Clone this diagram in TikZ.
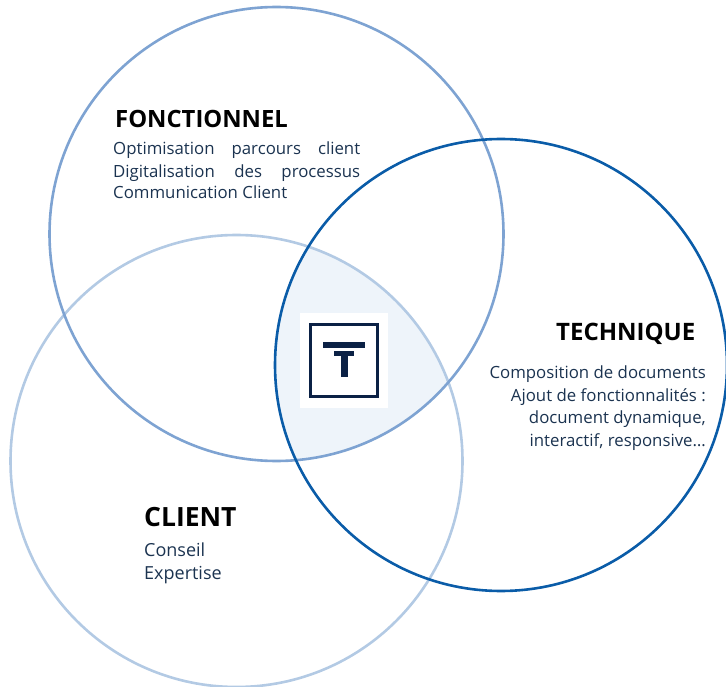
\documentclass[tikz,border=0pt]{standalone}
\usepackage{fontspec}
\setmainfont{Open Sans}
\definecolor{dark}{HTML}{1B3350}
\definecolor{navy}{HTML}{0B2145}
\definecolor{cfonc}{HTML}{7EA3D2}
\definecolor{ctech}{HTML}{0A5CA8}
\definecolor{cclient}{HTML}{B3CAE4}
\definecolor{lens}{HTML}{EEF4FA}
\tikzset{
  ring/.style={line width=2.6pt},
  heading/.style={font=\fontsize{23.8}{27}\selectfont\bfseries, text=black, inner sep=0pt, anchor=base west},
  body/.style={font=\fontsize{16.8}{24}\selectfont, text=dark, inner sep=0pt},
}
\newcommand{\jline}[3]{\makebox[247pt]{#1\hfill #2\hfill #3}}
\begin{document}
\begin{tikzpicture}[x=1pt,y=-1pt]
\useasboundingbox (0,0) rectangle (726,687);
\begin{scope}
  \clip (276.5,234) circle[radius=227];
  \clip (501,365) circle[radius=226];
  \fill[lens] (236.5,461) circle[radius=226];
\end{scope}
\draw[ring,cclient] (236.5,461) circle[radius=226];
\draw[ring,cfonc] (276.5,234) circle[radius=227];
\draw[ring,ctech] (501,365) circle[radius=226];
\node[fill=white,minimum width=88pt,minimum height=95pt,inner sep=0pt] (logobg) at (344,360.5) {};
\node[draw=navy,line width=3pt,minimum width=67pt,minimum height=72pt,inner sep=0pt,outer sep=0pt] (logobox) at (344,360.5) {};
\fill[navy] (323,341.5) rectangle (365,347.5);
\fill[navy] (334,350.5) rectangle (354,355.5);
\fill[navy] (341,350.5) rectangle (347.5,377);
\node[heading] (fonc) at (115,127.5) {FONCTIONNEL};
\node[body,anchor=base west] (f1) at (113,155) {\jline{Optimisation}{parcours}{client}};
\node[body,anchor=base west] (f2) at (113,177.5) {\jline{Digitalisation}{des}{processus}};
\node[body,anchor=base west] (f3) at (113,199) {Communication Client};
\node[heading,font=\fontsize{24}{27}\selectfont\bfseries] (tech) at (556,340) {TECHNIQUE};
\node[body,anchor=base east] (t1) at (706,378) {Composition de documents};
\node[body,anchor=base east] (t2) at (706,401) {Ajout de fonctionnalités :};
\node[body,anchor=base east] (t3) at (706,423) {document dynamique,};
\node[body,anchor=base east] (t4) at (706,446) {interactif, responsive…};
\node[heading,font=\fontsize{26.5}{27}\selectfont\bfseries] (client) at (144,526) {CLIENT};
\node[body,font=\fontsize{18}{24}\selectfont,anchor=base west] (c1) at (144,556) {Conseil};
\node[body,font=\fontsize{18}{24}\selectfont,anchor=base west] (c2) at (144,579) {Expertise};
\end{tikzpicture}
\end{document}
